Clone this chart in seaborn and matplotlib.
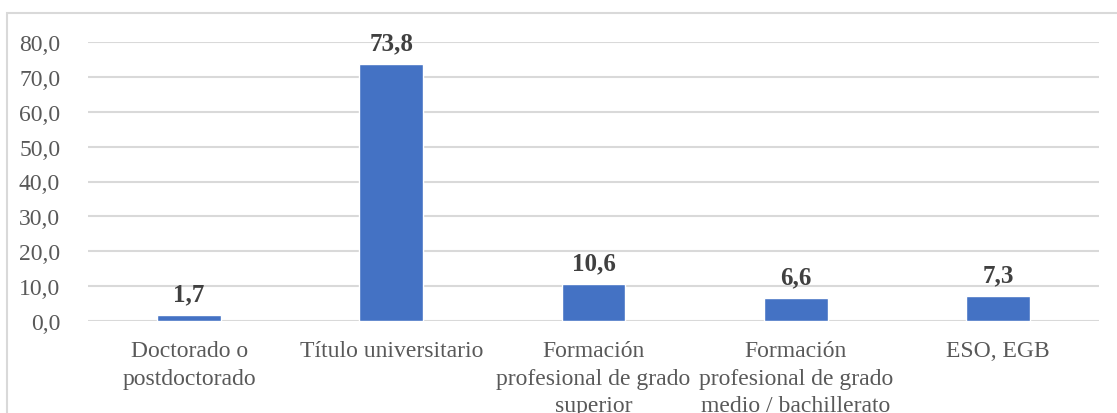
import matplotlib
matplotlib.use("Agg")
import matplotlib.pyplot as plt
import matplotlib.patches as mpatches
import seaborn as sns
import pandas as pd

categories = [
    "Doctorado o\npostdoctorado",
    "Título universitario",
    "Formación\nprofesional de grado\nsuperior",
    "Formación\nprofesional de grado\nmedio / bachillerato",
    "ESO, EGB",
]
values = [1.7, 73.8, 10.6, 6.6, 7.3]
yticks = [0, 10, 20, 30, 40, 50, 60, 70, 80]

df = pd.DataFrame({"categoria": categories, "porcentaje": values})

sns.set_theme(style="white")
plt.rcParams["font.family"] = ["Liberation Serif", "DejaVu Serif"]

fig = plt.figure(figsize=(11.17, 4.14), dpi=100)
ax = fig.add_axes([88 / 1117, 1 - 322 / 414, (1099 - 88) / 1117, (322 - 43) / 414])

sns.barplot(data=df, x="categoria", y="porcentaje", color="#4472C4",
            width=0.315, saturation=1, ax=ax, zorder=3)

ax.set_ylim(0, 80)
ax.set_xlim(-0.5, len(categories) - 0.5)
ax.set_yticks(yticks)
ax.set_yticklabels([f"{t:.1f}".replace(".", ",") for t in yticks])
ax.yaxis.grid(True, color="#D9D9D9", linewidth=1.5, zorder=0)
ax.xaxis.grid(False)
for s in ax.spines.values():
    s.set_visible(False)
ax.tick_params(axis="y", length=0, pad=20, labelsize=17, labelcolor="#595959")
ax.tick_params(axis="x", length=0, pad=14, labelsize=17, labelcolor="#595959")
for lbl in ax.get_xticklabels():
    lbl.set_linespacing(1.4)
ax.set_xlabel("")
ax.set_ylabel("")

for i, v in enumerate(values):
    ax.annotate(f"{v:.1f}".replace(".", ","), xy=(i, v), xytext=(0, 7),
                textcoords="offset points", ha="center", va="bottom",
                fontsize=18, fontweight="bold", color="#404040")

fig.patches.append(mpatches.Rectangle((7 / 1117, -0.1), 1.2, 1 - 14 / 414 + 0.1,
                                      transform=fig.transFigure, fill=False,
                                      edgecolor="#D9D9D9", linewidth=1.5))

fig.savefig("out.png", dpi=100)
